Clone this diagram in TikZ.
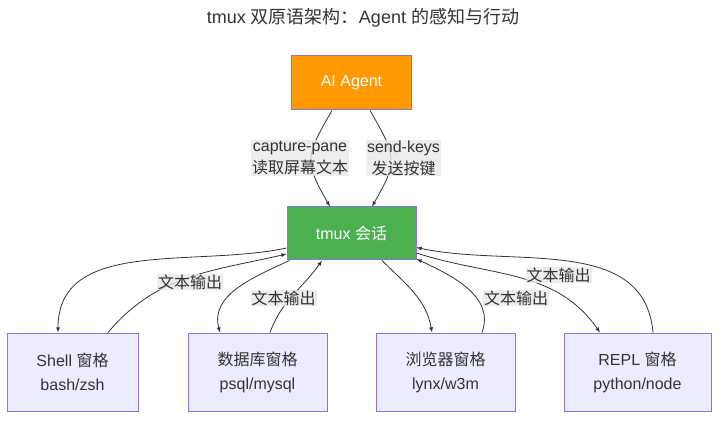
\documentclass[tikz,border=0pt]{standalone}
\usepackage{fontspec}
\setmainfont{Liberation Sans}
\newfontfamily\cjk{Noto Sans CJK SC}
\newcommand\zh[1]{{\cjk #1}}
\definecolor{agentfill}{HTML}{FF9900}
\definecolor{tmuxfill}{HTML}{4CAF50}
\definecolor{panefill}{HTML}{ECECFF}
\definecolor{boxline}{HTML}{9370DB}
\definecolor{edgegray}{HTML}{333333}
\definecolor{lblgray}{HTML}{E8E8E8}
\tikzset{
  box/.style={draw=boxline,line width=1pt,minimum height=53pt,inner sep=0pt,
    align=center,font=\fontsize{16}{24}\selectfont},
  pane/.style={box,fill=panefill,text=edgegray,minimum height=78pt},
  lbl/.style={fill=lblgray,fill opacity=.8,text opacity=1,text=edgegray,
    inner sep=1pt,align=center,font=\fontsize{16}{22}\selectfont},
  edge/.style={draw=edgegray,line width=.8pt,-latex}
}
\begin{document}
\begin{tikzpicture}[x=1pt,y=1pt]
\useasboundingbox (0,0) rectangle (727,423);
% title
\node[text=edgegray,font=\fontsize{18}{22}\selectfont] (title) at (363,405)
  {tmux \zh{双原语架构：}Agent \zh{的感知与行动}};
% agent and session
\node[box,fill=agentfill,text=white,minimum width=120pt,minimum height=54pt] (agent) at (351.5,340) {AI Agent};
\node[box,fill=tmuxfill,text=white,minimum width=129pt] (tmux) at (351.5,189.5) {tmux \zh{会话}};
% panes
\node[pane,minimum width=131pt] (shell) at (72.5,51) {Shell \zh{窗格}\\bash/zsh};
\node[pane,minimum width=139pt] (db) at (257.5,51) {\zh{数据库窗格}\\psql/mysql};
\node[pane,minimum width=139pt] (browser) at (445.5,51) {\zh{浏览器窗格}\\lynx/w3m};
\node[pane,minimum width=147pt] (repl) at (637.5,51) {REPL \zh{窗格}\\python/node};
% agent <-> tmux
\draw[edge] ([xshift=-19.5pt]agent.south) to[out=240,in=120,looseness=1.4] ([xshift=-21.5pt]tmux.north);
\draw[edge] ([xshift=18.5pt]agent.south) to[out=-60,in=60,looseness=1.4] ([xshift=20.5pt]tmux.north);
% tmux <-> panes
\draw[edge] ([yshift=-14.5pt]tmux.west) to[out=192,in=90] ([xshift=-14.5pt]shell.north);
\draw[edge] ([xshift=35.5pt]shell.north) to[out=50,in=193] ([yshift=-20.5pt]tmux.west);
\draw[edge] ([xshift=3pt]tmux.south west) to[out=205,in=105] ([xshift=-37.5pt]db.north);
\draw[edge] ([xshift=12.5pt]db.north) to[out=70,in=235] ([xshift=-29.5pt]tmux.south);
\draw[edge] ([xshift=30.5pt]tmux.south) to[out=-45,in=100] ([xshift=-13.5pt]browser.north);
\draw[edge] ([xshift=36.5pt]browser.north) to[out=70,in=-25] ([yshift=-25.5pt]tmux.east);
\draw[edge] ([yshift=-19.5pt]tmux.east) to[out=-18,in=125] ([xshift=-37.5pt]repl.north);
\draw[edge] ([xshift=15.5pt]repl.north) to[out=95,in=-12] ([yshift=-14pt]tmux.east);
% edge labels
\node[lbl] (cap) at (300,265) {capture-pane\\\zh{读取屏幕文本}};
\node[lbl] (send) at (403.5,265) {send-keys\\\zh{发送按键}};
\node[lbl] (outshell) at (190,141) {\zh{文本输出}};
\node[lbl] (outdb) at (283.5,125) {\zh{文本输出}};
\node[lbl] (outbrowser) at (516,125) {\zh{文本输出}};
\node[lbl] (outrepl) at (558.5,148) {\zh{文本输出}};
\end{tikzpicture}
\end{document}
